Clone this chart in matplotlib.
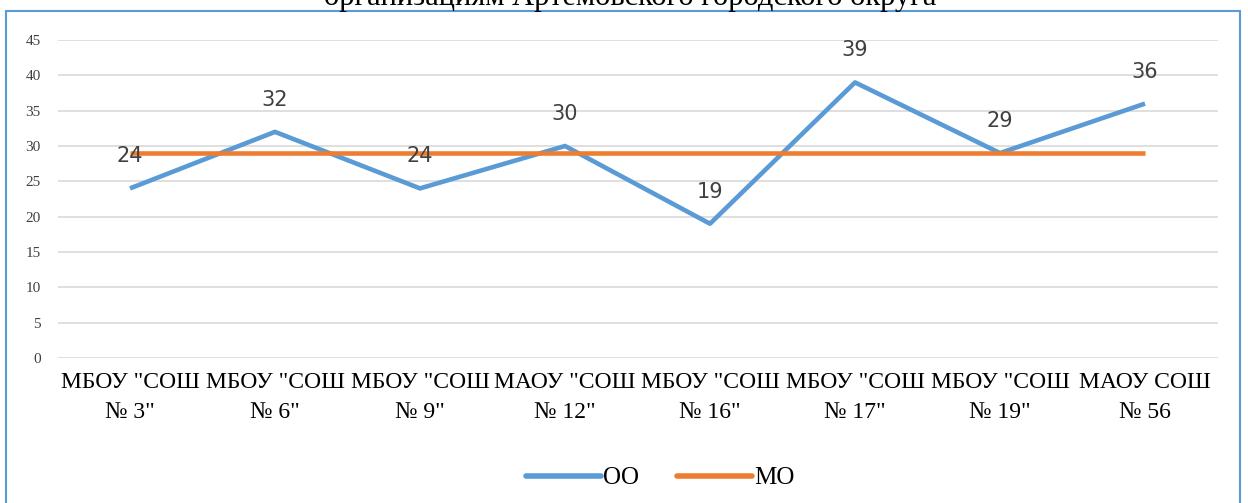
import numpy as np
import matplotlib.pyplot as plt
from matplotlib.patches import Rectangle

# Данные
categories = ['МБОУ "СОШ\n№ 3"', 'МБОУ "СОШ\n№ 6"', 'МБОУ "СОШ\n№ 9"', 'МАОУ "СОШ\n№ 12"',
              'МБОУ "СОШ\n№ 16"', 'МБОУ "СОШ\n№ 17"', 'МБОУ "СОШ\n№ 19"', 'МАОУ СОШ\n№ 56']
oo_values = [24, 32, 24, 30, 19, 39, 29, 36]
mo_values = [29, 29, 29, 29, 29, 29, 29, 29]
yticks = [0, 5, 10, 15, 20, 25, 30, 35, 40, 45]

W, H = 1248, 503
fig = plt.figure(figsize=(W/100, H/100), dpi=100)
fig.patch.set_facecolor('white')

# рамка диаграммы
fig.patches.append(Rectangle((6/W, -0.05), (1240-6)/W, 1.05 - 11/H,
                             transform=fig.transFigure, fill=False,
                             edgecolor='#5B9BD5', linewidth=1.5))

# заголовок (в исходнике обрезан сверху)
fig.text(630/W, 1 + 2/H, 'организациям Артемовского городского округа',
         ha='center', va='center', fontsize=22, family='Liberation Serif')

ax = fig.add_axes([57.5/W, 1 - 358/H, (1217.5-57.5)/W, (358-40)/H])
x = np.arange(len(categories))
ax.plot(x, oo_values, color='#5B9BD5', linewidth=3.3, solid_capstyle='butt', label='ОО', zorder=3)
ax.plot(x, mo_values, color='#ED7D31', linewidth=3.3, solid_capstyle='butt', label='МО', zorder=4)

for xi, v in zip(x, oo_values):
    ax.annotate(str(v), (xi, v), xytext=(0, 23), textcoords='offset points',
                ha='center', va='center', fontsize=15, color='#404040', family='DejaVu Sans', zorder=5)

ax.set_xlim(-0.5, len(categories) - 0.5)
ax.set_ylim(0, 45)
ax.set_yticks(yticks)
ax.set_xticks(x)
ax.set_xticklabels(categories, fontsize=17, family='Liberation Serif', linespacing=1.6)
for lab in ax.get_yticklabels():
    lab.set_family('Liberation Serif')
    lab.set_fontsize(11)
    lab.set_color('#404040')
ax.tick_params(axis='both', length=0)
ax.tick_params(axis='y', pad=12)
ax.tick_params(axis='x', pad=10)
ax.grid(axis='y', color='#d9d9d9', linewidth=1.2)
ax.set_axisbelow(True)
for s in ax.spines.values():
    s.set_visible(False)

leg = fig.legend(loc='center', bbox_to_anchor=(660/W, 1 - 478/H), ncol=2, frameon=False,
                 prop={'family': 'Liberation Serif', 'size': 18}, handlelength=3.0,
                 columnspacing=1.5, handletextpad=0.1)
for ln in leg.get_lines():
    ln.set_linewidth(4)
    ln.set_solid_capstyle('round')

fig.savefig('out.png', dpi=100)
